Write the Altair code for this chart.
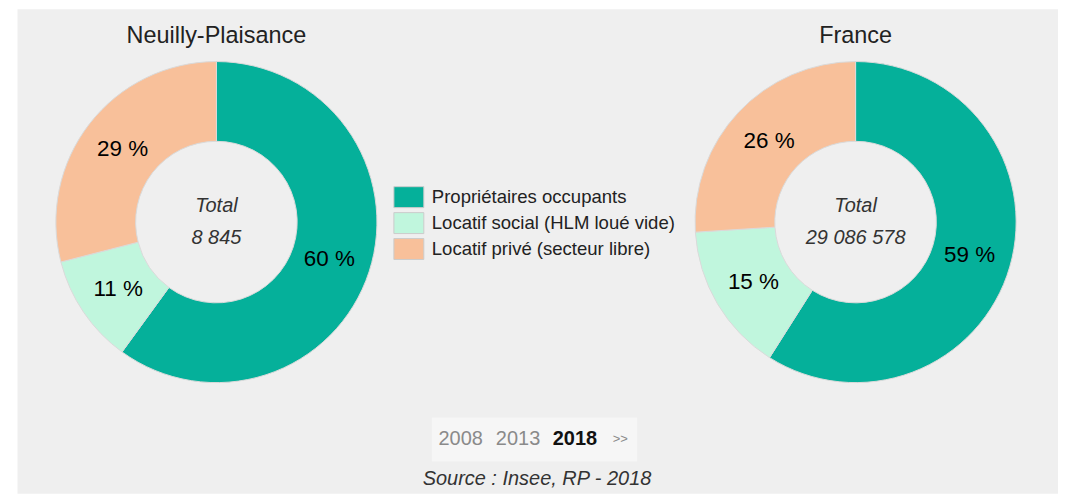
import math
import altair as alt
import pandas as pd

# ---- data ----
places = ["Neuilly-Plaisance", "France"]
categories = [
    "Propriétaires occupants",
    "Locatif social (HLM loué vide)",
    "Locatif privé (secteur libre)",
]
shares_neuilly = [60, 11, 29]
shares_france = [59, 15, 26]
totals = [8845, 29086578]
years = ["2008", "2013", "2018"]
source_text = "Source : Insee, RP - 2018"
colors = ["#05b09a", "#c0f6dd", "#f8c09a"]

FONT = "Liberation Sans, Arial, sans-serif"

rows = []
for place, shares in zip(places, [shares_neuilly, shares_france]):
    start = 0
    for i, (cat, v) in enumerate(zip(categories, shares)):
        rows.append(dict(place=place, cat=cat, order=i, value=v,
                         start=start, end=start + v, mid=start + v / 2,
                         label=f"{v} %"))
        start += v
df = pd.DataFrame(rows)

tot_df = pd.DataFrame({
    "place": places,
    "total": [f"{t:,}".replace(",", " ") for t in totals],
})

X = alt.X("place:N", axis=None,
          scale=alt.Scale(type="point", domain=places, range=[200, 841], padding=0))
CY = alt.value(214)
theta_scale = alt.Scale(domain=[0, 100], range=[0, 2 * math.pi])

arcs = alt.Chart(df).mark_arc(
    outerRadius=161, innerRadius=81, stroke="#dadada", strokeWidth=1
).encode(
    x=X, y=CY,
    theta=alt.Theta("start:Q", scale=theta_scale),
    theta2="end:Q",
    color=alt.Color(
        "cat:N",
        scale=alt.Scale(domain=categories, range=colors),
        legend=alt.Legend(
            title=None, orient="none", legendX=382, legendY=178,
            symbolType="M-1.43,-1L1.43,-1L1.43,1L-1.43,1Z",
            symbolSize=441, symbolStrokeColor="#cccccc", symbolStrokeWidth=1,
            symbolOpacity=1,
            labelFont=FONT, labelFontSize=18.6, labelColor="#222222",
            labelOffset=12, rowPadding=0, padding=0, labelLimit=400,
        ),
    ),
    order=alt.Order("order:Q"),
)

labels = alt.Chart(df).mark_text(
    radius=119, font=FONT, fontSize=22.5, color="#000000"
).encode(
    x=X, y=CY,
    theta=alt.Theta("mid:Q", scale=theta_scale),
    text="label:N",
)

total_word = alt.Chart(tot_df).mark_text(
    font=FONT, fontSize=20, fontStyle="italic", color="#333333", dy=-16
).encode(x=X, y=CY, text=alt.value("Total"))

total_val = alt.Chart(tot_df).mark_text(
    font=FONT, fontSize=20, fontStyle="italic", color="#333333", dy=16
).encode(x=X, y=CY, text="total:N")

titles = alt.Chart(tot_df).mark_text(
    font=FONT, fontSize=23.5, color="#222222"
).encode(x=X, y=alt.value(27), text="place:N")

one = pd.DataFrame({"k": [0]})
box = alt.Chart(one).mark_rect(fill="#f6f6f6").encode(
    x=alt.value(416), x2=alt.value(622), y=alt.value(410), y2=alt.value(454)
)

year_layers = []
for yr, xpos in zip(years, [445, 502.5, 559.5]):
    sel = yr == years[-1]
    year_layers.append(
        alt.Chart(one).mark_text(
            font=FONT, fontSize=20, fontWeight="bold" if sel else "normal",
            color="#111111" if sel else "#8a8a8a"
        ).encode(x=alt.value(xpos), y=alt.value(432), text=alt.value(yr))
    )
arrows = alt.Chart(one).mark_text(
    font=FONT, fontSize=13, color="#8a8a8a"
).encode(x=alt.value(605), y=alt.value(432), text=alt.value(">>"))

source = alt.Chart(one).mark_text(
    font=FONT, fontSize=20, fontStyle="italic", color="#333333"
).encode(x=alt.value(521.5), y=alt.value(472), text=alt.value(source_text))

chart = alt.layer(
    arcs, labels, total_word, total_val, titles, box, *year_layers, arrows, source
).properties(
    width=1044, height=486,
    background="white",
    padding={"left": 9, "top": 0, "right": 0, "bottom": 0},
    autosize=alt.AutoSizeParams(type="none"),
).configure_view(fill="#efefef", stroke="transparent")

chart.save("out.html", embed_options={"renderer": "svg", "actions": False})
